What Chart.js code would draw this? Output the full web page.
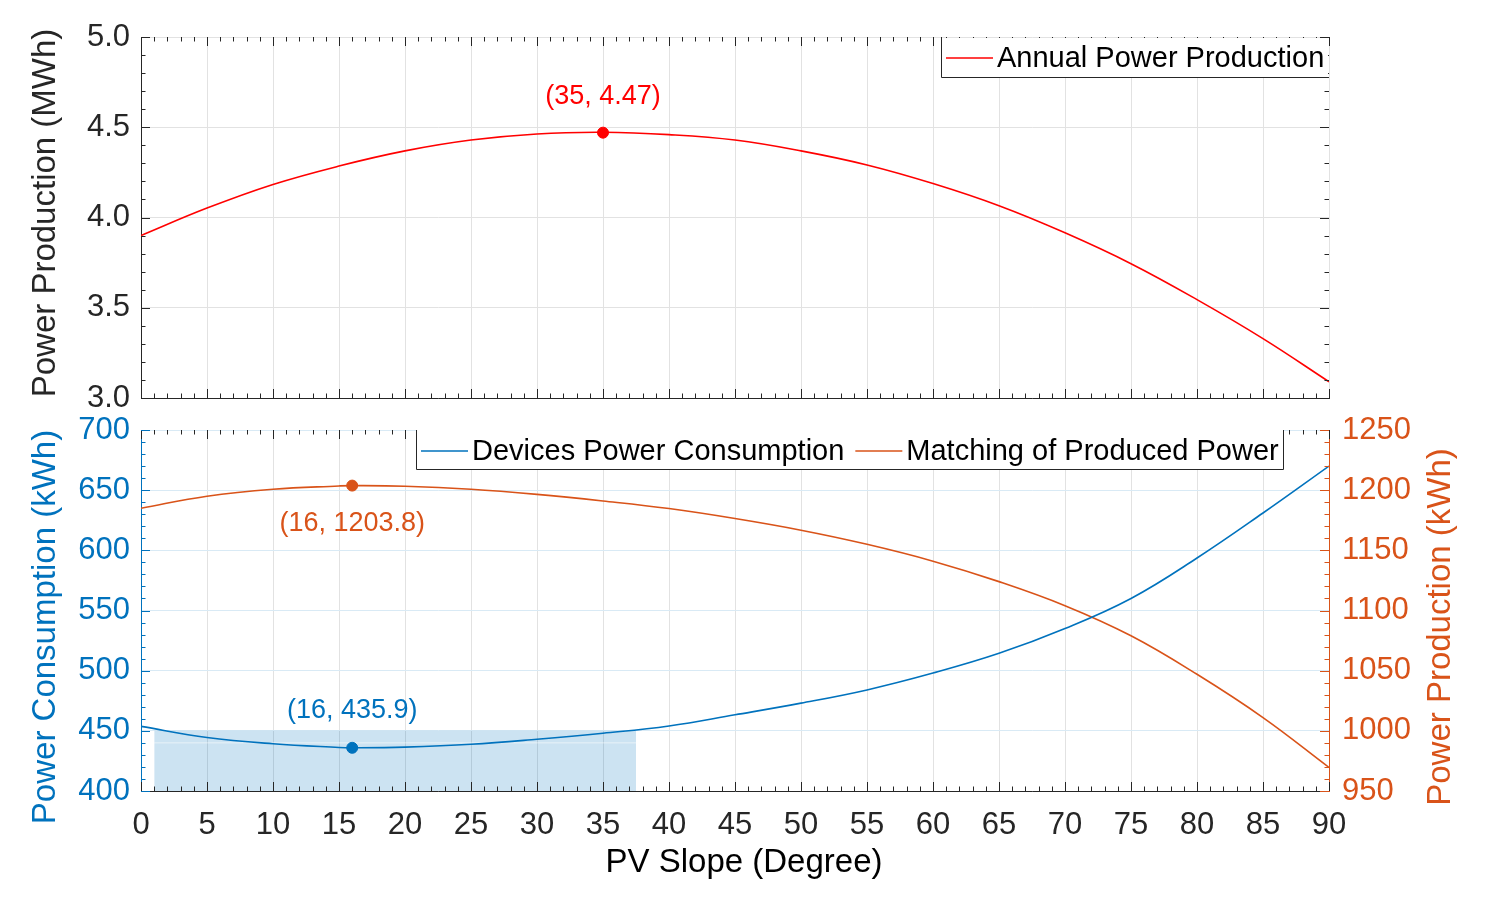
<!DOCTYPE html>
<html><head><meta charset="utf-8">
<script src="https://cdn.jsdelivr.net/npm/chart.js@4.4.1/dist/chart.umd.min.js"></script>
<style>
html,body{margin:0;padding:0;background:#fff;width:1485px;height:900px;overflow:hidden;}
#cTop{position:absolute;left:0;top:0;}
#cBot{position:absolute;left:0;top:380px;}
</style></head><body>
<canvas id="cTop" width="1485" height="440"></canvas>
<canvas id="cBot" width="1485" height="520"></canvas>
<script>
// ---------- DATA ----------
const slopeTop = [0,5,10,15,20,25,30,35,40,45,50,55,60,65,70,75,80,85,90];
const annualProduction = [3.90,4.052,4.183,4.285,4.369,4.429,4.463,4.472,4.459,4.429,4.369,4.291,4.188,4.065,3.915,3.744,3.545,3.329,3.09];
const peakTop = [35, 4.47];

const slopeBot = [0,5,10,15,16,20,25,30,35,40,45,50,55,60,65,70,75,80,85,90];
const consumption = [453.7,444.5,439.3,436.2,435.9,436.5,438.8,443,448,454,463.3,473,484,498,514.4,535,560,593.6,631,670];
const matching = [1185,1195,1200.8,1203.5,1203.8,1203.3,1200.8,1196.5,1191,1184.7,1176.4,1166.7,1155,1141,1124,1104,1079,1047,1011,969.6];
const minConsumption = [16, 435.9];
const maxMatching = [16, 1203.8];
const shadeX = [1, 37.5];
const shadeTop = 450;
const shadeInner = 440;

const labelsTop = {y: 'Power Production (MWh)', legend: ['Annual Power Production']};
const labelsBot = {x: 'PV Slope (Degree)', yLeft: 'Power Consumption (kWh)', yRight: 'Power Production (kWh)',
  legend: ['Devices Power Consumption', 'Matching of Produced Power']};

// ---------- STYLE ----------
const FONT = '"Liberation Sans", Arial, Helvetica, sans-serif';
Chart.defaults.font.family = FONT;
const RED = '#FF0000', BLUE = '#0072BD', ORANGE = '#D95319', DARK = '#262626';
const GRID = '#e2e2e2', GRIDBLUE = '#d9eaf5';

function inTicks(ctx, chart, id, step, minor, sides, color, majLen, minLen) {
  const s = chart.scales[id], a = chart.chartArea;
  ctx.save(); ctx.strokeStyle = color; ctx.lineWidth = 1; ctx.beginPath();
  const n = Math.round((s.max - s.min) / minor);
  for (let i = 0; i <= n; i++) {
    const v = s.min + i * minor;
    const r = v / step;
    const L = Math.abs(r - Math.round(r)) < 1e-6 ? majLen : minLen;
    const p = Math.round(s.getPixelForValue(v)) + 0.5;
    sides.forEach(side => {
      if (side === 'bottom') { ctx.moveTo(p, a.bottom); ctx.lineTo(p, a.bottom - L); }
      if (side === 'top') { ctx.moveTo(p, a.top); ctx.lineTo(p, a.top + L); }
      if (side === 'left') { ctx.moveTo(a.left, p); ctx.lineTo(a.left + L, p); }
      if (side === 'right') { ctx.moveTo(a.right, p); ctx.lineTo(a.right - L, p); }
    });
  }
  ctx.stroke(); ctx.restore();
}
function vText(ctx, text, x, y, color, size) {
  ctx.save(); ctx.translate(x, y); ctx.rotate(-Math.PI / 2);
  ctx.font = size + 'px ' + FONT; ctx.fillStyle = color; ctx.textAlign = 'center'; ctx.textBaseline = 'middle';
  ctx.fillText(text, 0, 0); ctx.restore();
}
function annot(ctx, chart, xId, yId, pt, text, color, dy) {
  const x = chart.scales[xId].getPixelForValue(pt[0]);
  const y = chart.scales[yId].getPixelForValue(pt[1]);
  ctx.save(); ctx.font = '27px ' + FONT; ctx.fillStyle = color; ctx.textAlign = 'center'; ctx.textBaseline = 'middle';
  ctx.fillText(text, x, y + dy); ctx.restore();
}
function legendItem(ctx, x, y, color, text) {
  ctx.save(); ctx.strokeStyle = color; ctx.lineWidth = 1.5;
  ctx.beginPath(); ctx.moveTo(x, y); ctx.lineTo(x + 47, y); ctx.stroke();
  ctx.font = '29px ' + FONT; ctx.fillStyle = '#000'; ctx.textAlign = 'left'; ctx.textBaseline = 'middle';
  ctx.fillText(text, x + 51, y + 1);
  const w = ctx.measureText(text).width; ctx.restore();
  return x + 51 + w;
}

// ---------- TOP CHART ----------
const topPlugin = {
  id: 'topDeco',
  afterDatasetsDraw(chart) {
    const ctx = chart.ctx;
    inTicks(ctx, chart, 'x', 5, 1, ['bottom', 'top'], DARK, 9, 4.5);
    inTicks(ctx, chart, 'y', 0.5, 0.1, ['left', 'right'], DARK, 9, 4.5);
    annot(ctx, chart, 'x', 'y', peakTop, '(' + peakTop[0] + ', ' + peakTop[1].toFixed(2) + ')', RED, -36);
  },
  afterDraw(chart) {
    const ctx = chart.ctx, a = chart.chartArea;
    const L = 941, T = a.top, B = a.top + 40;
    ctx.save(); ctx.fillStyle = '#fff'; ctx.fillRect(L, T + 1, a.right - L - 1, B - T - 1);
    ctx.strokeStyle = DARK; ctx.lineWidth = 1; ctx.beginPath();
    ctx.moveTo(L + 0.5, T); ctx.lineTo(L + 0.5, B + 0.5); ctx.lineTo(a.right, B + 0.5); ctx.stroke(); ctx.restore();
    legendItem(ctx, 946, T + 21, RED, labelsTop.legend[0]);
    vText(ctx, labelsTop.y, 46, 213, DARK, 33);
  }
};
new Chart(document.getElementById('cTop'), {
  type: 'line',
  data: { datasets: [
    { label: labelsTop.legend[0], data: slopeTop.map((x, i) => ({ x, y: annualProduction[i] })),
      borderColor: RED, borderWidth: 1.6, pointRadius: 0, tension: 0.4, order: 1 },
    { label: 'peak', type: 'scatter', data: [{ x: peakTop[0], y: peakTop[1] }], pointRadius: 5.5,
      backgroundColor: RED, borderColor: RED, order: 0 }
  ]},
  options: {
    responsive: false, animation: false,
    layout: { padding: { left: 0, right: 156, top: 37, bottom: 42 } },
    plugins: { legend: { display: false }, tooltip: { enabled: false } },
    scales: {
      x: { type: 'linear', min: 0, max: 90, ticks: { display: false, stepSize: 5 },
           grid: { color: GRID, drawTicks: false }, border: { color: DARK },
           afterFit: s => { s.height = 0; } },
      y: { min: 3, max: 5, ticks: { stepSize: 0.5, padding: 11, color: DARK, font: { size: 31 }, callback: v => v.toFixed(1) },
           grid: { color: GRID, drawTicks: false }, border: { color: DARK },
           afterFit: s => { s.width = 141; } }
    }
  },
  plugins: [topPlugin]
});

// ---------- BOTTOM CHART ----------
const botPlugin = {
  id: 'botDeco',
  afterDatasetsDraw(chart) {
    const ctx = chart.ctx;
    inTicks(ctx, chart, 'x', 5, 1, ['bottom', 'top'], DARK, 9, 4.5);
    inTicks(ctx, chart, 'y', 50, 10, ['left'], BLUE, 9, 4.5);
    inTicks(ctx, chart, 'y2', 50, 10, ['right'], ORANGE, 9, 4.5);
    annot(ctx, chart, 'x', 'y2', maxMatching, '(' + maxMatching[0] + ', ' + maxMatching[1].toFixed(1) + ')', ORANGE, 38);
    annot(ctx, chart, 'x', 'y', minConsumption, '(' + minConsumption[0] + ', ' + minConsumption[1].toFixed(1) + ')', BLUE, -37);
  },
  afterDraw(chart) {
    const ctx = chart.ctx, a = chart.chartArea;
    const L = 416, R = 1283, T = a.top, B = a.top + 39;
    ctx.save(); ctx.fillStyle = '#fff'; ctx.fillRect(L, T, R - L, B - T);
    ctx.strokeStyle = DARK; ctx.lineWidth = 1; ctx.beginPath();
    ctx.moveTo(L + 0.5, T); ctx.lineTo(L + 0.5, B + 0.5); ctx.lineTo(R + 0.5, B + 0.5); ctx.lineTo(R + 0.5, T); ctx.stroke(); ctx.restore();
    const end = legendItem(ctx, 421, T + 21, BLUE, labelsBot.legend[0]);
    legendItem(ctx, end + 11, T + 21, ORANGE, labelsBot.legend[1]);
    ctx.save(); ctx.font = '33px ' + FONT; ctx.fillStyle = '#000'; ctx.textAlign = 'center'; ctx.textBaseline = 'middle';
    ctx.fillText(labelsBot.x, 744, 483); ctx.restore();
    vText(ctx, labelsBot.yLeft, 46, 247, BLUE, 33);
    vText(ctx, labelsBot.yRight, 1441, 247, ORANGE, 33);
  }
};
new Chart(document.getElementById('cBot'), {
  type: 'line',
  data: { datasets: [
    { label: labelsBot.legend[0], data: slopeBot.map((x, i) => ({ x, y: consumption[i] })), yAxisID: 'y',
      borderColor: BLUE, borderWidth: 1.6, pointRadius: 0, tension: 0.4, order: 2 },
    { label: labelsBot.legend[1], data: slopeBot.map((x, i) => ({ x, y: matching[i] })), yAxisID: 'y2',
      borderColor: ORANGE, borderWidth: 1.6, pointRadius: 0, tension: 0.4, order: 2 },
    { label: 'min', type: 'scatter', data: [{ x: minConsumption[0], y: minConsumption[1] }], yAxisID: 'y',
      pointRadius: 5.5, backgroundColor: BLUE, borderColor: BLUE, order: 0 },
    { label: 'max', type: 'scatter', data: [{ x: maxMatching[0], y: maxMatching[1] }], yAxisID: 'y2',
      pointRadius: 5.5, backgroundColor: ORANGE, borderColor: ORANGE, order: 0 },
    { label: 'inner', data: shadeX.map(x => ({ x, y: shadeInner })), yAxisID: 'y',
      borderColor: 'rgba(255,255,255,0.55)', borderWidth: 1, pointRadius: 0, fill: false, order: 9 },
    { label: 'shade', data: shadeX.map(x => ({ x, y: shadeTop })), yAxisID: 'y',
      borderWidth: 0, borderColor: 'rgba(0,0,0,0)', backgroundColor: 'rgba(0,114,189,0.2)', pointRadius: 0, fill: 'start', order: 10 }
  ]},
  options: {
    responsive: false, animation: false,
    layout: { padding: { left: 0, right: 0, top: 50, bottom: 0 } },
    plugins: { legend: { display: false }, tooltip: { enabled: false }, filler: { propagate: false } },
    scales: {
      x: { type: 'linear', min: 0, max: 90, ticks: { stepSize: 5, padding: 16, color: DARK, font: { size: 31 }, maxRotation: 0, autoSkip: false, callback: v => String(v) },
           grid: { color: GRID, drawTicks: false }, border: { color: DARK },
           afterFit: s => { s.height = 109; } },
      y: { position: 'left', min: 400, max: 700, ticks: { stepSize: 50, padding: 11, color: BLUE, font: { size: 31 }, callback: v => String(v) },
           grid: { color: GRIDBLUE, drawTicks: false }, border: { color: BLUE },
           afterFit: s => { s.width = 141; } },
      y2: { position: 'right', min: 950, max: 1250, ticks: { stepSize: 50, padding: 13, color: ORANGE, font: { size: 31 }, callback: v => String(v) },
            grid: { display: false, drawTicks: false }, border: { color: ORANGE },
            afterFit: s => { s.width = 156; } }
    }
  },
  plugins: [botPlugin]
});
</script>
</body></html>
